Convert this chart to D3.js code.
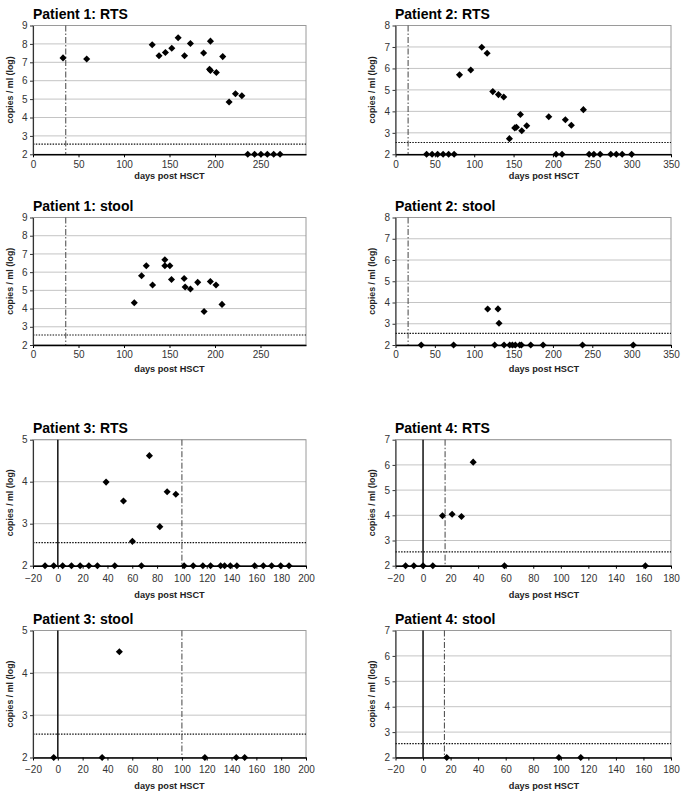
<!DOCTYPE html>
<html><head><meta charset="utf-8">
<script src="https://cdn.jsdelivr.net/npm/d3@7"></script>
<style>body{margin:0;background:#fff}svg{display:block}</style>
</head><body>
<svg id="c" width="685" height="792"></svg>
<script>
// ---------- data ----------
const p1RtsDay = [33, 59, 131, 138.5, 145.5, 152.5, 159.5, 166.5, 173, 187.5, 195, 194, 195, 201.5, 208.5, 215.5, 222.5, 229.5, 236, 243.5, 250.5, 257.5, 264.5, 271.5];
const p1RtsLog = [7.24, 7.18, 7.95, 7.36, 7.53, 7.76, 8.33, 7.36, 8.02, 7.51, 8.15, 6.62, 6.55, 6.45, 7.31, 4.84, 5.29, 5.18, 2, 2, 2, 2, 2, 2];

const p2RtsDay = [39.5, 46.5, 53.5, 60.5, 67.5, 74.5, 81.3, 95.6, 109.6, 116.4, 123.6, 130.8, 137.5, 144.7, 151.5, 153.6, 158.7, 160.4, 166.7, 194.7, 204, 211.6, 215.8, 223.4, 238.7, 246, 252, 260, 273.5, 280.5, 288, 300];
const p2RtsLog = [2, 2, 2, 2, 2, 2, 5.70, 5.93, 6.99, 6.71, 4.92, 4.78, 4.67, 2.73, 3.23, 3.26, 3.85, 3.10, 3.33, 3.75, 2, 2, 3.61, 3.35, 4.08, 2, 2, 2, 2, 2, 2, 2];

const p1StoolDay = [111.3, 119.3, 124.5, 131.4, 144.9, 144.9, 150.4, 152.2, 166.1, 167.2, 173, 181, 188, 194.9, 201.1, 207.7];
const p1StoolLog = [4.32, 5.80, 6.35, 5.29, 6.68, 6.35, 6.35, 5.60, 5.65, 5.18, 5.07, 5.44, 3.84, 5.49, 5.29, 4.23];

const p2StoolDay = [32.7, 73.8, 117.1, 126, 130.2, 131.5, 137.9, 145.1, 148.5, 152.3, 157.8, 160, 171.8, 187.5, 237.6, 302.1];
const p2StoolLog = [2, 2, 3.69, 2, 3.70, 3.02, 2, 2, 2, 2, 2, 2, 2, 2, 2, 2];

const p3RtsDay = [-10.3, -3.3, 3.9, 11, 18, 25, 31.9, 38.9, 45.9, 52.9, 60.1, 67.4, 73.8, 82.2, 88.1, 95.1, 101.8, 109.1, 116.9, 123.1, 131.2, 134.4, 139, 144.3, 158.6, 165.6, 172.3, 179.6, 186.3];
const p3RtsLog = [2, 2, 2, 2, 2, 2, 2, 3.99, 2, 3.54, 2.58, 2, 4.62, 2.93, 3.76, 3.70, 2, 2, 2, 2, 2, 2, 2, 2, 2, 2, 2, 2, 2];

const p4RtsDay = [-12.7, -6.7, 0, 7.1, 14.1, 21.1, 27.9, 36.4, 59.1, 161.4];
const p4RtsLog = [2, 2, 2, 2, 3.98, 4.04, 3.95, 6.11, 2, 2];

const p3StoolDay = [-3.3, 35.7, 49.6, 118.5, 143.8, 150.6];
const p3StoolLog = [2, 2, 4.5, 2, 2, 2];

const p4StoolDay = [17.2, 98.6, 114.5];
const p4StoolLog = [2, 2, 2];

const titles = ["Patient 1: RTS", "Patient 2: RTS", "Patient 1: stool", "Patient 2: stool",
                "Patient 3: RTS", "Patient 4: RTS", "Patient 3: stool", "Patient 4: stool"];
const xTicks300 = [0, 50, 100, 150, 200, 250];
const xTicks350 = [0, 50, 100, 150, 200, 250, 300, 350];
const xTicks200 = [-20, 0, 20, 40, 60, 80, 100, 120, 140, 160, 180, 200];
const xTicks180 = [-20, 0, 20, 40, 60, 80, 100, 120, 140, 160, 180];
const eventDay = [36, 16, 36, 16, 100, 16, 100, 15.5];   // dash-dot line
const thresholdLog = 2.55;                                 // dotted line
const xLabel = "days post HSCT";
const yLabel = "copies / ml (log)";

// ---------- layout ----------
const cols = [
  {x0: 33, x1: 306, titleX: 33, yLabX: 12.5, xTitleX: 169.5},
  {x0: 395.5, x1: 671, titleX: 395, yLabX: 375, xTitleX: 544}
];
const rows = [
  {y0: 25.5, y1: 154.3, titleY: 19, tickOff: 13.5, xTitleOff: 24.5},
  {y0: 217.5, y1: 345, titleY: 211, tickOff: 13.3, xTitleOff: 26.7},
  {y0: 439.7, y1: 565.7, titleY: 433, tickOff: 16, xTitleOff: 31.8},
  {y0: 630.5, y1: 757.5, titleY: 624, tickOff: 15.4, xTitleOff: 31.4}
];

const panels = [
  {days: p1RtsDay, vals: p1RtsLog, xDom: [0, 300], xTicks: xTicks300, yDom: [2, 9], zero: false},
  {days: p2RtsDay, vals: p2RtsLog, xDom: [0, 350], xTicks: xTicks350, yDom: [2, 8], zero: false},
  {days: p1StoolDay, vals: p1StoolLog, xDom: [0, 300], xTicks: xTicks300, yDom: [2, 9], zero: false},
  {days: p2StoolDay, vals: p2StoolLog, xDom: [0, 350], xTicks: xTicks350, yDom: [2, 8], zero: false},
  {days: p3RtsDay, vals: p3RtsLog, xDom: [-20, 200], xTicks: xTicks200, yDom: [2, 5], zero: true},
  {days: p4RtsDay, vals: p4RtsLog, xDom: [-20, 180], xTicks: xTicks180, yDom: [2, 7], zero: true},
  {days: p3StoolDay, vals: p3StoolLog, xDom: [-20, 200], xTicks: xTicks200, yDom: [2, 5], zero: true},
  {days: p4StoolDay, vals: p4StoolLog, xDom: [-20, 180], xTicks: xTicks180, yDom: [2, 7], zero: true}
];

const svg = d3.select("#c");
const FONT = "'Liberation Sans', Arial, Helvetica, sans-serif";
const diamond = d3.symbol().type(d3.symbolSquare).size(25);

panels.forEach((p, i) => {
  const c = cols[i % 2], r = rows[Math.floor(i / 2)];
  const g = svg.append("g");
  const x = d3.scaleLinear().domain(p.xDom).range([c.x0, c.x1]);
  const y = d3.scaleLinear().domain(p.yDom).range([r.y1, r.y0]);
  const yTicks = d3.range(p.yDom[0], p.yDom[1] + 1);

  // gridlines
  g.selectAll("line.grid").data(yTicks.slice(1)).join("line")
    .attr("x1", c.x0).attr("x2", c.x1)
    .attr("y1", d => y(d)).attr("y2", d => y(d))
    .attr("stroke", "#c4c4c4").attr("stroke-width", 1);

  // plot border
  g.append("rect").attr("x", c.x0).attr("y", r.y0)
    .attr("width", c.x1 - c.x0).attr("height", r.y1 - r.y0)
    .attr("fill", "none").attr("stroke", "#9a9a9a").attr("stroke-width", 1);

  // threshold dotted
  g.append("line").attr("x1", c.x0).attr("x2", c.x1)
    .attr("y1", y(thresholdLog)).attr("y2", y(thresholdLog))
    .attr("stroke", "#111").attr("stroke-width", 1.2).attr("stroke-dasharray", "1.5,1.3");

  // event dash-dot
  g.append("line").attr("x1", x(eventDay[i])).attr("x2", x(eventDay[i]))
    .attr("y1", r.y0).attr("y2", r.y1)
    .attr("stroke", "#444").attr("stroke-width", 1).attr("stroke-dasharray", "6,2,1.5,2");

  // zero line
  if (p.zero) {
    g.append("line").attr("x1", x(0)).attr("x2", x(0))
      .attr("y1", r.y0).attr("y2", r.y1)
      .attr("stroke", "#111").attr("stroke-width", 1.5);
  }

  // axes
  const xa = g.append("g").attr("transform", `translate(0,${r.y1})`)
    .call(d3.axisBottom(x).tickValues(p.xTicks).tickSize(3).tickSizeOuter(0)
      .tickPadding(r.tickOff - 10.1).tickFormat(d3.format("d")));
  xa.select(".domain").attr("stroke", "#000").attr("stroke-width", 1.6);
  xa.selectAll(".tick line").attr("stroke", "#000");
  xa.selectAll("text").attr("font-family", FONT).attr("font-size", 10).attr("fill", "#333");

  const ya = g.append("g").attr("transform", `translate(${c.x0},0)`)
    .call(d3.axisLeft(y).tickValues(yTicks).tickSize(3).tickSizeOuter(0).tickPadding(2.5).tickFormat(d3.format("d")));
  ya.select(".domain").attr("stroke", "#333").attr("stroke-width", 1.1);
  ya.selectAll(".tick line").attr("stroke", "#333");
  ya.selectAll("text").attr("font-family", FONT).attr("font-size", 10).attr("fill", "#333");

  // points
  const pts = p.days.map((d, k) => ({d, v: p.vals[k]}));
  g.selectAll("path.pt").data(pts).join("path")
    .attr("class", "pt")
    .attr("d", diamond)
    .attr("transform", d => `translate(${x(d.d)},${y(d.v)}) rotate(45)`)
    .attr("fill", "#000");

  // title
  g.append("text").attr("x", c.titleX).attr("y", r.titleY)
    .attr("font-family", FONT).attr("font-weight", "bold").attr("font-size", 14)
    .attr("fill", "#000").text(titles[i]);

  // x title
  g.append("text").attr("x", c.xTitleX).attr("y", r.y1 + r.xTitleOff)
    .attr("text-anchor", "middle")
    .attr("font-family", FONT).attr("font-weight", "bold").attr("font-size", 9.2)
    .attr("fill", "#222").text(xLabel);

  // y title
  g.append("text")
    .attr("transform", `translate(${c.yLabX},${(r.y0 + r.y1) / 2}) rotate(-90)`)
    .attr("text-anchor", "middle")
    .attr("font-family", FONT).attr("font-weight", "bold").attr("font-size", 8.8)
    .attr("fill", "#222").text(yLabel);
});
</script>
</body></html>
